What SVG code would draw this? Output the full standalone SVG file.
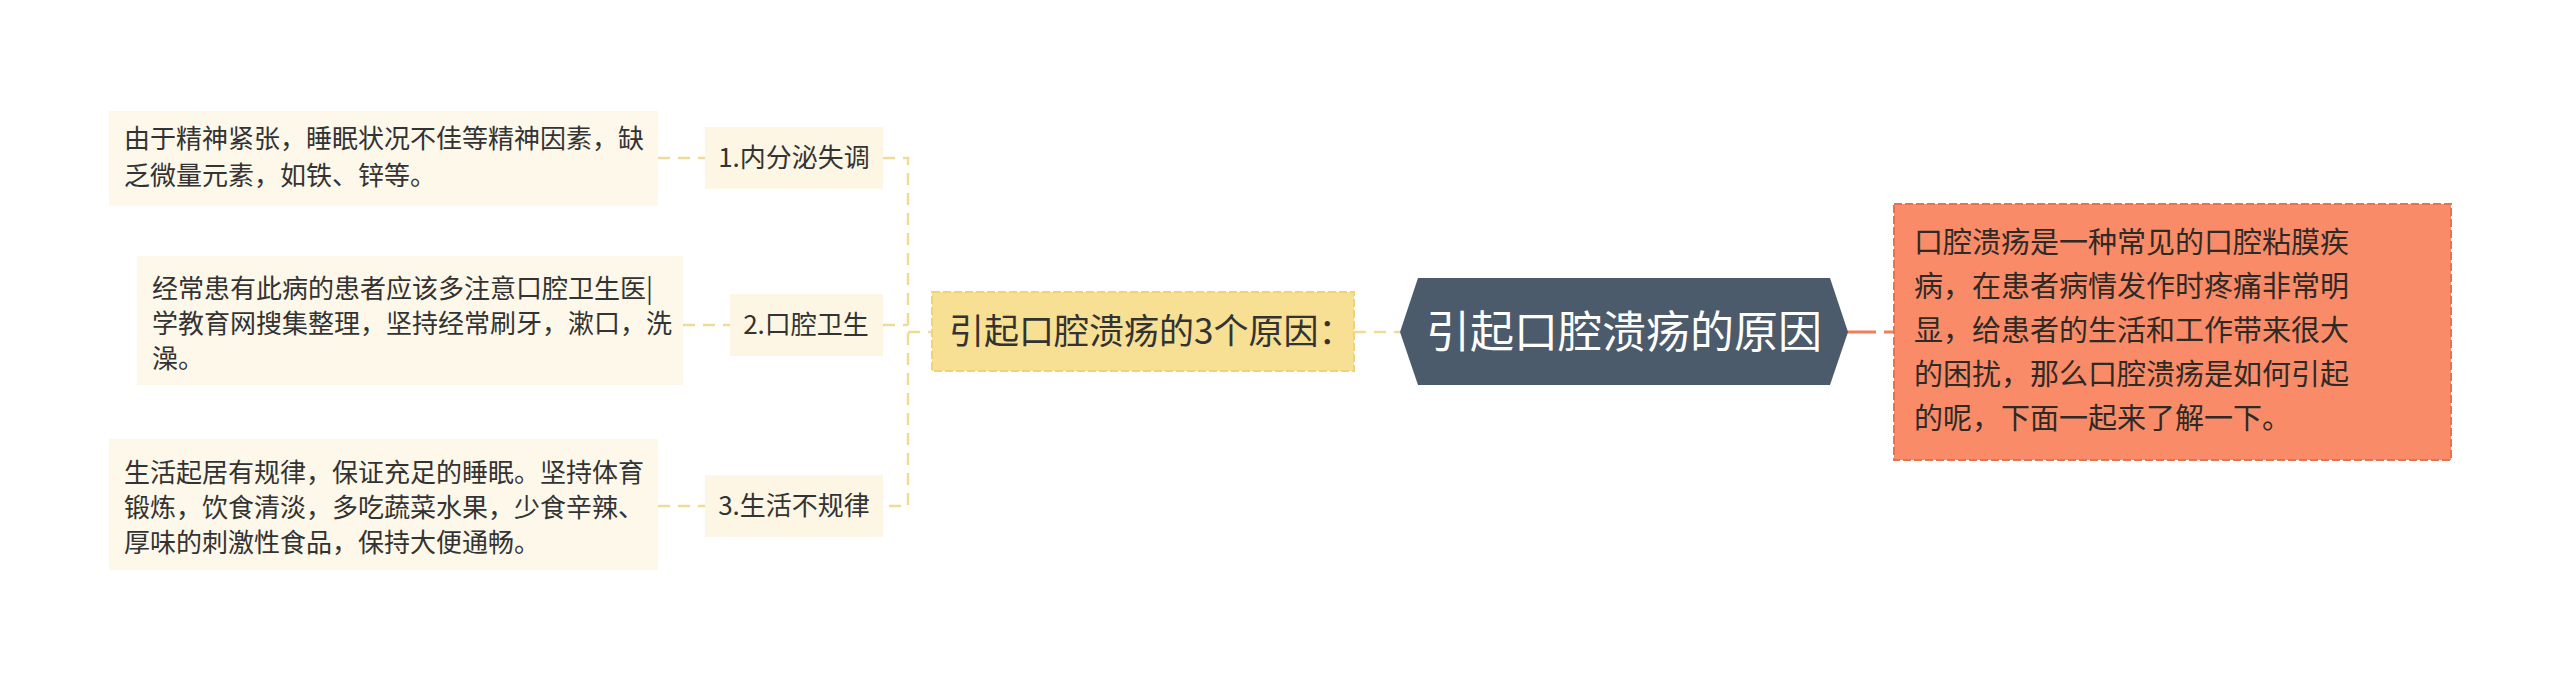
<svg xmlns="http://www.w3.org/2000/svg" width="2560" height="680" viewBox="0 0 2560 680">
<style>
text{font-family:"Noto Sans CJK SC","Noto Sans",sans-serif;fill:#333}
.leaf{fill:#FDF8E9}
.sub{fill:#FDF6E4}
.t26{font-size:26px}
.yc{stroke:#EEDB9A;stroke-width:2.5;fill:none;stroke-dasharray:12 8}
.oc{stroke:#F27C5C;stroke-width:3;fill:none;stroke-dasharray:30 8}
</style>
<rect width="2560" height="680" fill="#fff"/>
<g id="connectors">
<path class="yc" d="M658 158H705M683 325H730M658 506H705"/>
<path class="yc" d="M883 158H908V506H883M883 325H908M908 332H932"/>
<path class="yc" d="M1354 332H1400"/>
<path class="oc" d="M1846 332H1894"/>
</g>
<g id="root">
<polygon points="1400,332 1418,278 1830,278 1848,332 1830,385 1418,385" fill="#4B5B6B"/>
<text x="1624" y="348" text-anchor="middle" font-size="44" style="fill:#fff">引起口腔溃疡的原因</text>
</g>
<g id="intro">
<rect x="1894" y="204" width="557" height="256" fill="#F98B68" stroke="#E5734F" stroke-width="2" stroke-dasharray="8 3"/>
<text font-size="29" style="fill:#2E2A26"><tspan x="1914" y="253">口腔溃疡是一种常见的口腔粘膜疾</tspan><tspan x="1914" y="297">病，在患者病情发作时疼痛非常明</tspan><tspan x="1914" y="341">显，给患者的生活和工作带来很大</tspan><tspan x="1914" y="385">的困扰，那么口腔溃疡是如何引起</tspan><tspan x="1914" y="429">的呢，下面一起来了解一下。</tspan></text>
</g>
<g id="reasons">
<rect x="932" y="292" width="422" height="79" fill="#F7DF94" stroke="#EFD27A" stroke-width="2" stroke-dasharray="8 3"/>
<text x="949" y="344" font-size="35">引起口腔溃疡的3个原因：</text>
</g>
<g id="r1">
<rect class="sub" x="705" y="127" width="178" height="62"/>
<text class="t26" x="794" y="167" text-anchor="middle">1.内分泌失调</text>
</g>
<g id="r1d">
<rect class="leaf" x="109" y="111" width="549" height="95"/>
<text class="t26"><tspan x="124" y="148">由于精神紧张，睡眠状况不佳等精神因素，缺</tspan><tspan x="124" y="185">乏微量元素，如铁、锌等。</tspan></text>
</g>
<g id="r2">
<rect class="sub" x="730" y="294" width="153" height="62"/>
<text class="t26" x="806" y="334" text-anchor="middle">2.口腔卫生</text>
</g>
<g id="r2d">
<rect class="leaf" x="137" y="256" width="546" height="129"/>
<text class="t26"><tspan x="152" y="298">经常患有此病的患者应该多注意口腔卫生医|</tspan><tspan x="152" y="333">学教育网搜集整理，坚持经常刷牙，漱口，洗</tspan><tspan x="152" y="368">澡。</tspan></text>
</g>
<g id="r3">
<rect class="sub" x="705" y="475" width="178" height="62"/>
<text class="t26" x="794" y="515" text-anchor="middle">3.生活不规律</text>
</g>
<g id="r3d">
<rect class="leaf" x="109" y="439" width="549" height="131"/>
<text class="t26"><tspan x="124" y="482">生活起居有规律，保证充足的睡眠。坚持体育</tspan><tspan x="124" y="517">锻炼，饮食清淡，多吃蔬菜水果，少食辛辣、</tspan><tspan x="124" y="552">厚味的刺激性食品，保持大便通畅。</tspan></text>
</g>
</svg>
